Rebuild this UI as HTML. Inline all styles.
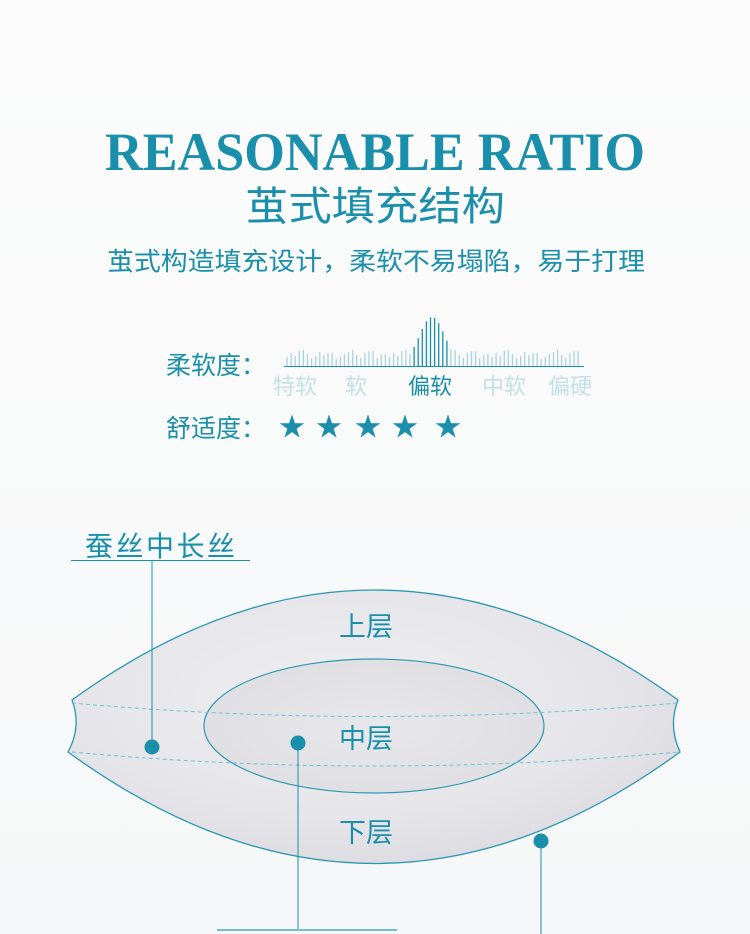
<!DOCTYPE html>
<html><head><meta charset="utf-8"><style>
html,body{margin:0;padding:0}
body{width:750px;height:934px;background:linear-gradient(#fcfcfc,#f6f7f8);overflow:hidden}
svg{display:block}
text{font-family:"Liberation Sans","Noto Sans CJK SC",sans-serif;fill:#1a8fab}
</style></head><body>
<svg width="750" height="934" viewBox="0 0 750 934" xmlns="http://www.w3.org/2000/svg">
<defs>
<radialGradient id="pg" cx="0.45" cy="0.4" r="0.6">
<stop offset="0" stop-color="#eeeef1"/><stop offset="0.7" stop-color="#e6e6ea"/><stop offset="1" stop-color="#dcdce2"/>
</radialGradient>
<radialGradient id="ig" cx="0.5" cy="0.5" r="0.6">
<stop offset="0" stop-color="#e8e8eb"/><stop offset="1" stop-color="#dedee2"/>
</radialGradient>
</defs>
<text x="375" y="170" text-anchor="middle" textLength="540" lengthAdjust="spacingAndGlyphs" style="font-family:'Liberation Serif',serif;font-weight:bold;font-size:54px;fill:#1a8fab">REASONABLE RATIO</text>
<text x="375" y="220" text-anchor="middle" textLength="260" lengthAdjust="spacingAndGlyphs" style="font-size:40px">茧式填充结构</text>
<text x="376" y="270" text-anchor="middle" textLength="538" lengthAdjust="spacingAndGlyphs" style="font-size:25px">茧式构造填充设计，柔软不易塌陷，易于打理</text>

<text x="166" y="374" style="font-size:25px">柔软度：</text>
<g id="bars" stroke-width="1.3"></g>
<line x1="284" y1="366.5" x2="584" y2="366.5" stroke="#1a8fab" stroke-width="1"/>
<g style="font-size:22px">
<text x="273" y="394" style="fill:#c3e0e8">特软</text>
<text x="345" y="394" style="fill:#c3e0e8">软</text>
<text x="408" y="394" style="fill:#1a8fab">偏软</text>
<text x="482" y="394" style="fill:#c3e0e8">中软</text>
<text x="548" y="394" style="fill:#c3e0e8">偏硬</text>
</g>
<text x="166" y="437" style="font-size:25px">舒适度：</text>
<g style="font-size:26px">
<text x="279" y="436">★</text><text x="316" y="436">★</text><text x="355" y="436">★</text><text x="392" y="436">★</text><text x="435" y="436">★</text>
</g>

<text x="85" y="556" textLength="150" style="font-size:28px">蚕丝中长丝</text>
<line x1="71" y1="560.5" x2="250" y2="560.5" stroke="#1a8fab" stroke-width="1"/>

<path d="M72,700 Q375,480 678,700 Q668,726 680,752 Q375,975 68,752 Q82,726 72,700 Z" fill="url(#pg)" stroke="#2a98b2" stroke-width="1.3"/>
<ellipse cx="374" cy="726" rx="170" ry="67" fill="url(#ig)" stroke="#2a98b2" stroke-width="1.2"/>
<path d="M72,703 Q375,730 678,703" fill="none" stroke="#6fbfd2" stroke-width="1" stroke-dasharray="4,3"/>
<path d="M72,752 Q375,780 678,752" fill="none" stroke="#6fbfd2" stroke-width="1" stroke-dasharray="4,3"/>
<text x="339" y="636" style="font-size:27px">上层</text>
<text x="339" y="748" style="font-size:27px">中层</text>
<text x="339" y="842" style="font-size:27px">下层</text>

<g stroke="#1a8fab" stroke-width="1" fill="none">
<line x1="152" y1="561" x2="152" y2="747"/>
<line x1="298" y1="743" x2="298" y2="930"/>
<line x1="217" y1="930" x2="397" y2="930" stroke="#6fbfd2" stroke-width="2"/>
<line x1="541" y1="841" x2="541" y2="934"/>
</g>
<g fill="#1a8fab">
<circle cx="152" cy="747" r="7.5"/><circle cx="298" cy="743" r="7.5"/><circle cx="541" cy="841" r="7.5"/>
</g>
</svg>
<script>
(function(){
var g=document.getElementById('bars'),s='';
var base=[9,13,10,15,16,12,8,10,14,11,13,13,7,9,12,14,16,11,8,13,15,15,8,11,12];
var i=0;
for(var x=287;x<=580;x+=4.1){
  var d=x-432, h;
  var peak=49*Math.exp(-d*d/(2*13*13));
  var b=base[i%base.length]; i++;
  h=Math.max(b,peak);
  var c=(h>17)?'#1a8fab':'#a9d3df';
  s+='<line x1="'+x.toFixed(1)+'" y1="366" x2="'+x.toFixed(1)+'" y2="'+(366-h).toFixed(1)+'" stroke="'+c+'"/>';
}
g.innerHTML=s;
})();
</script>
</body></html>
